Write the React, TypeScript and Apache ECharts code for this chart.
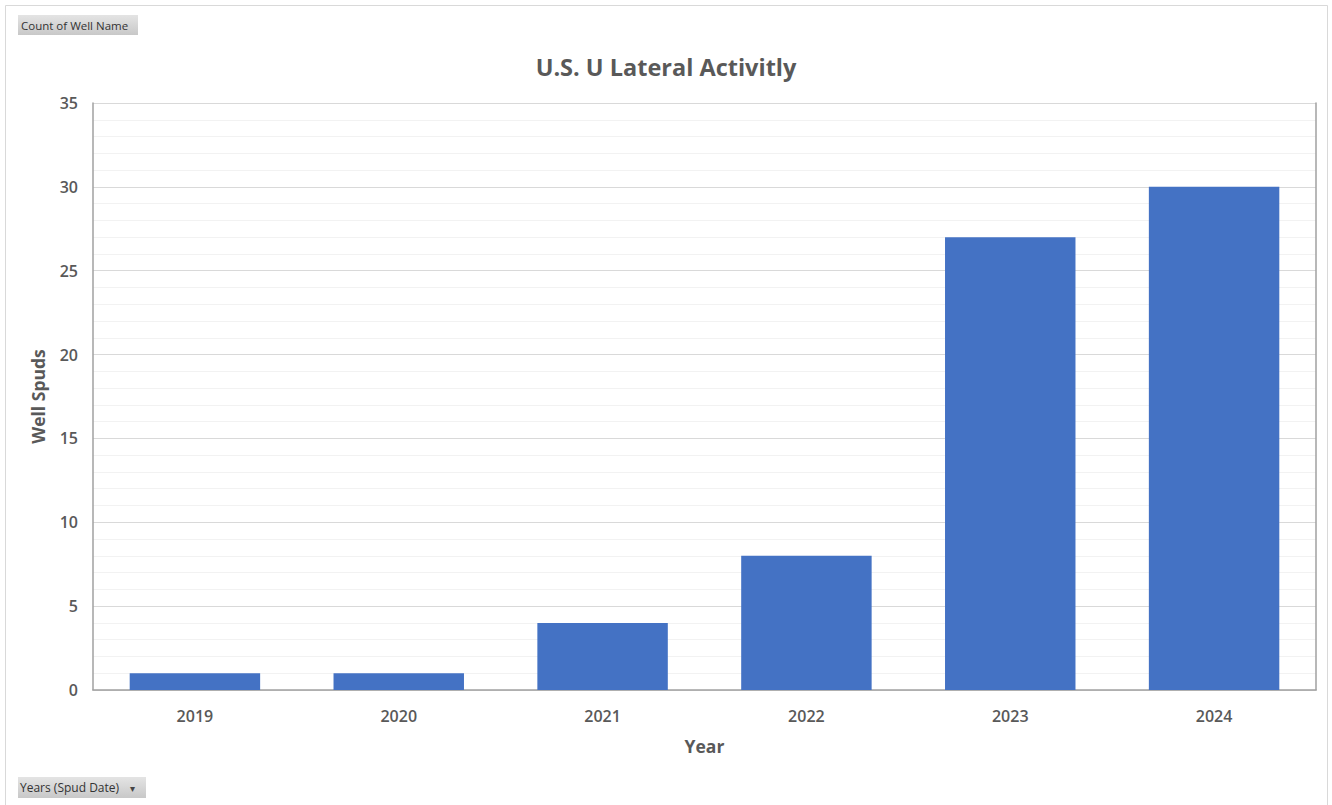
import React, { useEffect, useRef } from "react";
import * as echarts from "echarts";

const years = ["2019", "2020", "2021", "2022", "2023", "2024"];
const wellSpuds = [1, 1, 4, 8, 27, 30];
const titleText = "U.S. U Lateral Activitly";
const yName = "Well Spuds";
const xName = "Year";
const topButton = "Count of Well Name";
const bottomButton = "Years (Spud Date)";

const FONT = "'Open Sans', 'Liberation Sans', sans-serif";
const TXT = "#595959";

export default function App() {
  const ref = useRef<HTMLDivElement>(null);
  useEffect(() => {
    if (!ref.current) return;
    const chart = echarts.init(ref.current, undefined, { renderer: "svg" });
    const btnGrad = new echarts.graphic.LinearGradient(0, 0, 0, 1, [
      { offset: 0, color: "#e4e4e4" },
      { offset: 1, color: "#c8c8c8" },
    ]);
    chart.setOption({
      animation: false,
      backgroundColor: "#ffffff",
      textStyle: { fontFamily: FONT },
      title: {
        text: titleText,
        left: "center",
        top: 50,
        textStyle: { fontFamily: FONT, fontSize: 23.5, fontWeight: "bold", color: TXT },
      },
      grid: { left: 93, right: 16, top: 103, bottom: 115, containLabel: false },
      xAxis: [
        {
          type: "category",
          data: years,
          name: xName,
          nameLocation: "middle",
          nameGap: 47,
          nameTextStyle: { fontFamily: FONT, fontSize: 17.5, fontWeight: "bold", color: TXT },
          axisLine: { show: true, lineStyle: { color: "#d9d9d9", width: 1 } },
          axisTick: { show: false },
          axisLabel: { fontFamily: FONT, fontSize: 16, fontWeight: 600, color: TXT, margin: 18 },
        },
        {
          type: "category",
          data: years,
          position: "top",
          axisLine: { show: true, lineStyle: { color: "#a0a0a0", width: 1.5 } },
          axisTick: { show: false },
          axisLabel: { show: false },
        },
      ],
      yAxis: [
        {
          type: "value",
          min: 0,
          max: 35,
          interval: 5,
          name: yName,
          nameLocation: "middle",
          nameGap: 46,
          nameTextStyle: { fontFamily: FONT, fontSize: 17.5, fontWeight: "bold", color: TXT },
          axisLine: { show: true, lineStyle: { color: "#a0a0a0", width: 1.5 } },
          axisTick: { show: false },
          axisLabel: { fontFamily: FONT, fontSize: 16, fontWeight: 600, color: TXT, margin: 15 },
          splitLine: { show: true, lineStyle: { color: "#d9d9d9", width: 1 } },
          minorTick: { show: false, splitNumber: 5 },
          minorSplitLine: { show: true, lineStyle: { color: "#f2f2f2", width: 1 } },
        },
        {
          type: "value",
          min: 0,
          max: 35,
          interval: 5,
          position: "right",
          axisLine: { show: true, lineStyle: { color: "#a0a0a0", width: 1.5 } },
          axisTick: { show: false },
          axisLabel: { show: false },
          splitLine: { show: false },
        },
      ],
      series: [
        {
          type: "bar",
          data: wellSpuds,
          barWidth: "64%",
          itemStyle: { color: "#4472c4" },
          xAxisIndex: 0,
          yAxisIndex: 0,
        },
      ],
      graphic: [
        {
          type: "rect",
          shape: { x: 5.5, y: 5.5, width: 1322, height: 805 },
          style: { fill: "none", stroke: "#d9d9d9", lineWidth: 1 },
          silent: true,
        },
        {
          type: "group",
          left: 18,
          top: 15,
          children: [
            { type: "rect", shape: { x: 0, y: 0, width: 120, height: 20 }, style: { fill: btnGrad } },
            {
              type: "text",
              x: 3,
              y: 10,
              style: { text: topButton, fontFamily: FONT, fontSize: 11.5, fill: "#333333", verticalAlign: "middle" },
            },
          ],
        },
        {
          type: "group",
          left: 18,
          top: 777,
          children: [
            { type: "rect", shape: { x: 0, y: 0, width: 128, height: 21 }, style: { fill: btnGrad } },
            {
              type: "text",
              x: 2,
              y: 10.5,
              style: { text: bottomButton, fontFamily: FONT, fontSize: 12, fill: "#333333", verticalAlign: "middle" },
            },
            {
              type: "text",
              x: 112,
              y: 10.5,
              style: { text: "▾", fontFamily: FONT, fontSize: 10, fill: "#444444", verticalAlign: "middle" },
            },
          ],
        },
      ],
    });
    return () => chart.dispose();
  }, []);
  return (
    <div
      ref={ref}
      style={{ position: "absolute", left: 0, top: 0, width: 1332, height: 805 }}
    />
  );
}
